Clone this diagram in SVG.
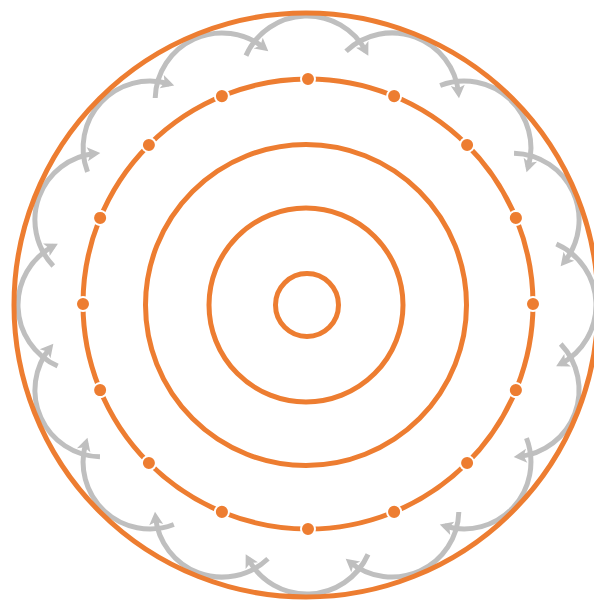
<svg xmlns="http://www.w3.org/2000/svg" width="594" height="604" viewBox="0 0 594 604">
<style>
.ring{fill:none;stroke:#ED7D31;stroke-width:5}
.arc{fill:none;stroke:#BFBFBF;stroke-width:5;marker-end:url(#ah)}
.dot{fill:#ED7D31;stroke:#FFFFFF;stroke-width:2}
</style>
<defs>
<marker id="ah" markerUnits="userSpaceOnUse" markerWidth="24" markerHeight="24" viewBox="-12 -12 24 24" refX="0" refY="0" orient="auto">
<path d="M5,0 L-8,-7 L-5,0 L-8,7 Z" fill="#BFBFBF"/>
</marker>
<path id="sc" class="arc" d="M245.98,55.63 A66.8,66.8 0 0 1 365.98,51.44"/>
<circle id="dt" class="dot" cx="308" cy="79" r="7"/>
</defs>
<rect width="594" height="604" fill="#FFFFFF"/>
<g id="connectors">
<use href="#sc"/>
<use href="#sc" transform="rotate(22.5 307 305)"/>
<use href="#sc" transform="rotate(45 307 305)"/>
<use href="#sc" transform="rotate(67.5 307 305)"/>
<use href="#sc" transform="rotate(90 307 305)"/>
<use href="#sc" transform="rotate(112.5 307 305)"/>
<use href="#sc" transform="rotate(135 307 305)"/>
<use href="#sc" transform="rotate(157.5 307 305)"/>
<use href="#sc" transform="rotate(180 307 305)"/>
<use href="#sc" transform="rotate(202.5 307 305)"/>
<use href="#sc" transform="rotate(225 307 305)"/>
<use href="#sc" transform="rotate(247.5 307 305)"/>
<use href="#sc" transform="rotate(270 307 305)"/>
<use href="#sc" transform="rotate(292.5 307 305)"/>
<use href="#sc" transform="rotate(315 307 305)"/>
<use href="#sc" transform="rotate(337.5 307 305)"/>
</g>
<g id="outer-ring"><circle class="ring" cx="306" cy="305" r="292"/></g>
<g id="ring-4"><circle class="ring" cx="308" cy="304" r="225"/></g>
<g id="ring-3"><circle class="ring" cx="306" cy="305" r="160.5"/></g>
<g id="ring-2"><circle class="ring" cx="306" cy="305" r="97"/></g>
<g id="ring-1"><circle class="ring" cx="307" cy="305" r="31.5"/></g>
<g id="dots">
<use href="#dt"/>
<use href="#dt" transform="rotate(22.5 308 304)"/>
<use href="#dt" transform="rotate(45 308 304)"/>
<use href="#dt" transform="rotate(67.5 308 304)"/>
<use href="#dt" transform="rotate(90 308 304)"/>
<use href="#dt" transform="rotate(112.5 308 304)"/>
<use href="#dt" transform="rotate(135 308 304)"/>
<use href="#dt" transform="rotate(157.5 308 304)"/>
<use href="#dt" transform="rotate(180 308 304)"/>
<use href="#dt" transform="rotate(202.5 308 304)"/>
<use href="#dt" transform="rotate(225 308 304)"/>
<use href="#dt" transform="rotate(247.5 308 304)"/>
<use href="#dt" transform="rotate(270 308 304)"/>
<use href="#dt" transform="rotate(292.5 308 304)"/>
<use href="#dt" transform="rotate(315 308 304)"/>
<use href="#dt" transform="rotate(337.5 308 304)"/>
</g>
</svg>
